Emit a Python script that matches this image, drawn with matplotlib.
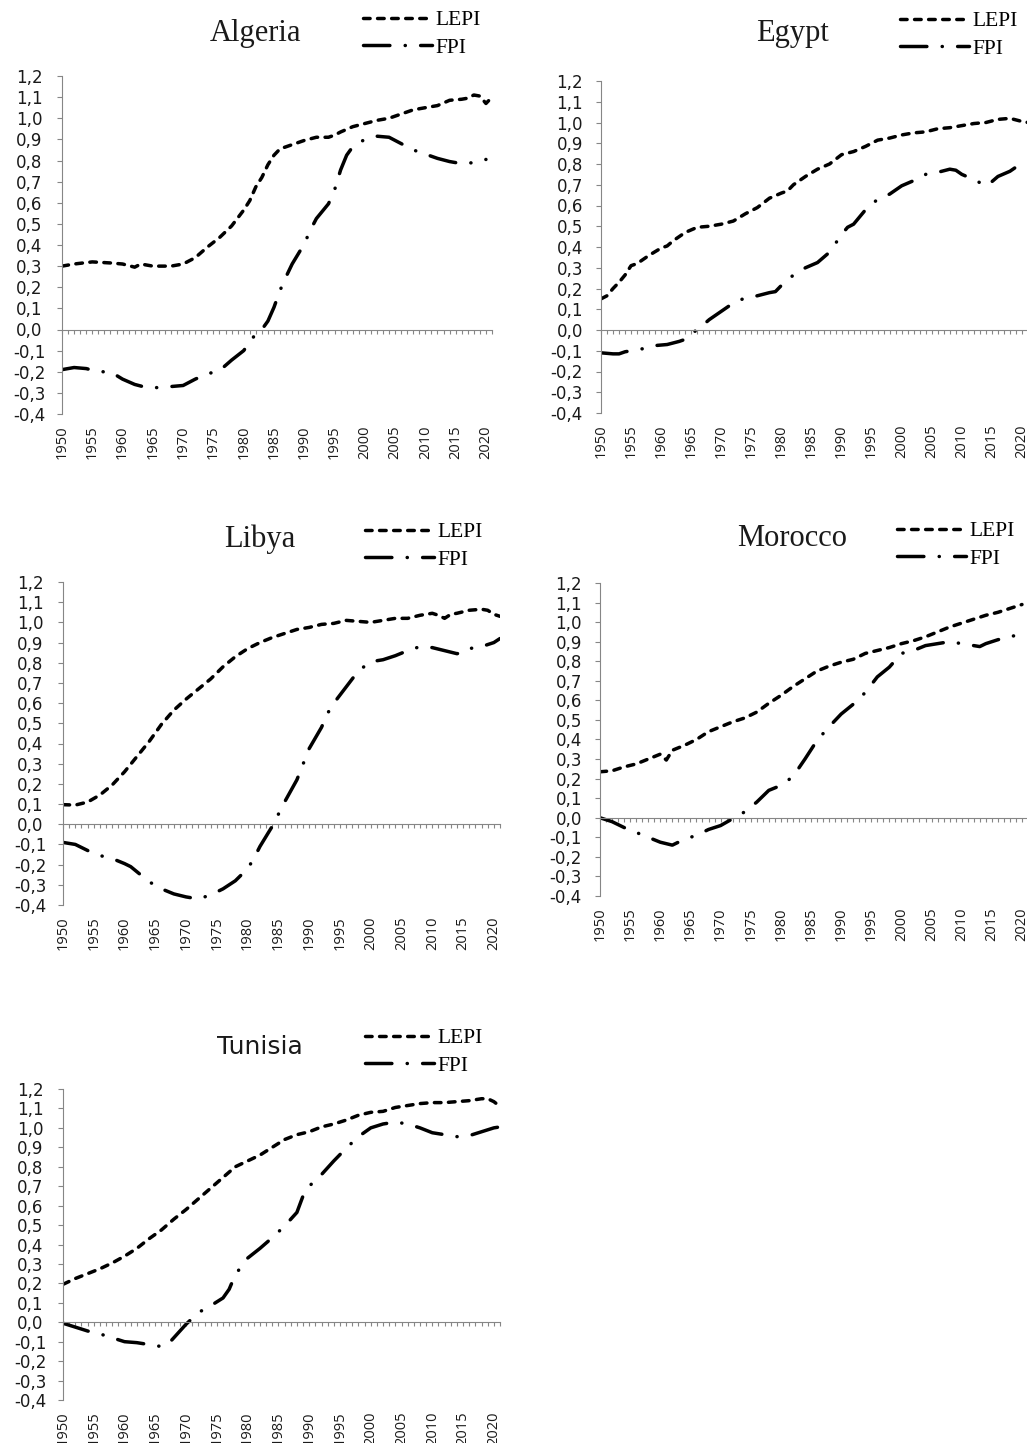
import matplotlib
matplotlib.use('Agg')
import matplotlib.pyplot as plt

# ---- data ----
algeria_lepi_years = [1950, 1952, 1955, 1958, 1960, 1962, 1963, 1965, 1968, 1970, 1972, 1974, 1976, 1978,
                      1980, 1981, 1982, 1983, 1984, 1985, 1986, 1988, 1990, 1992, 1994, 1995, 1996, 1998,
                      2000, 2002, 2004, 2006, 2008, 2010, 2012, 2014, 2016, 2017, 2018, 2019, 2020, 2021]
algeria_lepi = [0.30, 0.31, 0.32, 0.315, 0.31, 0.295, 0.31, 0.30, 0.30, 0.31, 0.34, 0.39, 0.435, 0.49,
                0.565, 0.61, 0.675, 0.72, 0.78, 0.825, 0.855, 0.875, 0.895, 0.91, 0.91, 0.92, 0.935, 0.96,
                0.975, 0.99, 1.0, 1.02, 1.04, 1.05, 1.06, 1.085, 1.09, 1.095, 1.11, 1.105, 1.07, 1.10]
algeria_fpi_years = [1950, 1952, 1954, 1956, 1958, 1960, 1962, 1964, 1966, 1968, 1970, 1972, 1974, 1976,
                     1978, 1980, 1982, 1983, 1984, 1985, 1986, 1987, 1988, 1990, 1991, 1992, 1994, 1995,
                     1996, 1997, 1998, 2000, 2002, 2004, 2006, 2008, 2010, 2012, 2014, 2016, 2018, 2020]
algeria_fpi = [-0.19, -0.18, -0.185, -0.20, -0.20, -0.235, -0.26, -0.275, -0.275, -0.27, -0.265, -0.235,
               -0.21, -0.195, -0.145, -0.10, -0.02, 0.0, 0.04, 0.105, 0.185, 0.25, 0.31, 0.405, 0.47, 0.525,
               0.595, 0.66, 0.755, 0.825, 0.865, 0.90, 0.915, 0.91, 0.88, 0.85, 0.83, 0.81, 0.795, 0.785,
               0.79, 0.805]

egypt_lepi_years = [1950, 1951, 1952, 1953, 1954, 1955, 1956, 1958, 1960, 1961, 1962, 1964, 1966, 1968,
                    1970, 1972, 1974, 1976, 1978, 1980, 1981, 1982, 1984, 1986, 1988, 1990, 1992, 1994,
                    1996, 1998, 2000, 2002, 2004, 2006, 2008, 2010, 2012, 2014, 2016, 2018, 2020, 2021]
egypt_lepi = [0.15, 0.165, 0.20, 0.23, 0.265, 0.31, 0.32, 0.36, 0.395, 0.405, 0.43, 0.47, 0.495, 0.50,
              0.51, 0.525, 0.56, 0.59, 0.635, 0.66, 0.67, 0.70, 0.74, 0.775, 0.80, 0.845, 0.86, 0.885,
              0.915, 0.925, 0.94, 0.95, 0.955, 0.97, 0.975, 0.985, 0.995, 1.0, 1.015, 1.02, 1.005, 1.0]
egypt_fpi_years = [1950, 1952, 1953, 1954, 1955, 1957, 1959, 1961, 1963, 1964, 1965, 1966, 1967, 1968,
                   1970, 1972, 1974, 1976, 1978, 1979, 1980, 1982, 1984, 1986, 1988, 1990, 1991, 1992,
                   1994, 1996, 1998, 2000, 2002, 2004, 2006, 2008, 2009, 2010, 2012, 2014, 2015, 2016,
                   2018, 2020, 2021]
egypt_fpi = [-0.11, -0.115, -0.115, -0.105, -0.10, -0.09, -0.075, -0.07, -0.055, -0.045, -0.025, 0.005,
             0.025, 0.05, 0.09, 0.13, 0.155, 0.165, 0.18, 0.185, 0.215, 0.265, 0.30, 0.325, 0.375, 0.46,
             0.495, 0.51, 0.58, 0.63, 0.655, 0.695, 0.72, 0.75, 0.76, 0.775, 0.77, 0.75, 0.725, 0.695,
             0.715, 0.74, 0.765, 0.805, 0.815]

libya_lepi_years = [1950, 1952, 1954, 1956, 1958, 1960, 1962, 1964, 1966, 1968, 1970, 1972, 1974, 1976,
                    1978, 1980, 1982, 1984, 1986, 1988, 1990, 1992, 1994, 1996, 1998, 2000, 2002, 2004,
                    2006, 2008, 2010, 2011, 2012, 2013, 2014, 2016, 2018, 2019, 2020, 2021]
libya_lepi = [0.097, 0.095, 0.11, 0.145, 0.195, 0.26, 0.335, 0.41, 0.495, 0.565, 0.62, 0.67, 0.72, 0.78,
              0.83, 0.87, 0.90, 0.925, 0.945, 0.965, 0.975, 0.99, 0.995, 1.01, 1.005, 1.0, 1.01, 1.02,
              1.02, 1.035, 1.045, 1.035, 1.02, 1.04, 1.045, 1.06, 1.065, 1.06, 1.04, 1.03]
libya_fpi_years = [1950, 1952, 1954, 1956, 1958, 1960, 1961, 1962, 1964, 1966, 1968, 1970, 1972, 1974,
                   1976, 1978, 1980, 1981, 1982, 1984, 1985, 1986, 1988, 1990, 1992, 1993, 1994, 1996,
                   1998, 2000, 2002, 2004, 2006, 2008, 2010, 2012, 2014, 2015, 2016, 2018, 2020, 2021]
libya_fpi = [-0.09, -0.10, -0.13, -0.155, -0.17, -0.195, -0.21, -0.235, -0.285, -0.32, -0.345, -0.36,
             -0.37, -0.35, -0.32, -0.28, -0.22, -0.17, -0.11, -0.01, 0.05, 0.11, 0.22, 0.375, 0.48, 0.55,
             0.60, 0.68, 0.76, 0.805, 0.815, 0.835, 0.86, 0.88, 0.875, 0.86, 0.845, 0.85, 0.87, 0.88,
             0.90, 0.92]

morocco_lepi_years = [1950, 1952, 1954, 1956, 1958, 1960, 1961, 1962, 1964, 1966, 1968, 1970, 1972, 1974,
                      1976, 1978, 1980, 1982, 1984, 1986, 1988, 1990, 1992, 1994, 1996, 1998, 2000, 2002,
                      2004, 2006, 2008, 2010, 2012, 2014, 2016, 2018, 2020]
morocco_lepi = [0.235, 0.24, 0.26, 0.275, 0.30, 0.325, 0.295, 0.345, 0.37, 0.40, 0.44, 0.465, 0.49, 0.51,
                0.54, 0.585, 0.625, 0.67, 0.71, 0.75, 0.775, 0.795, 0.81, 0.84, 0.855, 0.87, 0.89, 0.905,
                0.925, 0.95, 0.975, 0.995, 1.015, 1.035, 1.05, 1.07, 1.09]
morocco_fpi_years = [1950, 1952, 1954, 1956, 1958, 1960, 1962, 1963, 1964, 1966, 1968, 1970, 1972, 1974,
                     1976, 1978, 1980, 1982, 1984, 1986, 1988, 1990, 1992, 1994, 1996, 1998, 2000, 2002,
                     2004, 2006, 2008, 2010, 2012, 2013, 2014, 2016, 2018, 2020, 2021]
morocco_fpi = [0.0, -0.02, -0.05, -0.075, -0.10, -0.125, -0.14, -0.125, -0.11, -0.09, -0.06, -0.04,
               -0.005, 0.03, 0.08, 0.14, 0.165, 0.21, 0.30, 0.395, 0.465, 0.53, 0.58, 0.64, 0.72, 0.77,
               0.84, 0.855, 0.88, 0.89, 0.90, 0.89, 0.88, 0.875, 0.89, 0.91, 0.925, 0.94, 0.945]

tunisia_lepi_years = [1950, 1952, 1954, 1956, 1958, 1960, 1962, 1964, 1966, 1968, 1970, 1972, 1974, 1976,
                      1978, 1980, 1982, 1984, 1986, 1988, 1990, 1992, 1994, 1996, 1998, 2000, 2002, 2004,
                      2006, 2008, 2010, 2012, 2014, 2016, 2018, 2019, 2020, 2021]
tunisia_lepi = [0.195, 0.225, 0.25, 0.275, 0.305, 0.34, 0.38, 0.43, 0.475, 0.53, 0.58, 0.635, 0.69, 0.745,
                0.80, 0.83, 0.86, 0.90, 0.94, 0.965, 0.98, 1.005, 1.02, 1.04, 1.065, 1.08, 1.085, 1.105,
                1.115, 1.125, 1.13, 1.13, 1.135, 1.14, 1.15, 1.15, 1.135, 1.11]
tunisia_fpi_years = [1950, 1952, 1954, 1956, 1958, 1960, 1962, 1964, 1966, 1967, 1968, 1970, 1971, 1972,
                     1974, 1976, 1977, 1978, 1980, 1982, 1984, 1986, 1988, 1989, 1990, 1992, 1994, 1996,
                     1998, 2000, 2002, 2004, 2006, 2008, 2010, 2012, 2014, 2015, 2016, 2018, 2020, 2021]
tunisia_fpi = [-0.005, -0.025, -0.045, -0.06, -0.08, -0.10, -0.105, -0.115, -0.125, -0.115, -0.08, -0.01,
               0.02, 0.05, 0.085, 0.125, 0.17, 0.245, 0.33, 0.38, 0.435, 0.495, 0.565, 0.65, 0.70, 0.76,
               0.83, 0.895, 0.955, 1.0, 1.02, 1.03, 1.02, 1.0, 0.975, 0.965, 0.955, 0.955, 0.96, 0.98,
               1.0, 1.005]

y_ticks = [i / 10 for i in range(-4, 13)]
y_tick_labels = [f"{v:.1f}".replace('.', ',') for v in y_ticks]
year_ticks = list(range(1950, 2021, 5))

# ---- layout (pixels of the 1027x1443 image) ----
W, H = 1027, 1443
AXIS_GREY = '#868686'
TXT = '#1a1a1a'

# name, title font, title size, lepi years/values, fpi years/values,
# plot box (left, top, right, bottom), title centre, legend corner, left column?
panels = [
    ('Algeria', 'Liberation Serif', 22, algeria_lepi_years, algeria_lepi, algeria_fpi_years, algeria_fpi,
     (62, 76, 492, 414), (255, 33), (363, 10), True),
    ('Egypt', 'Liberation Serif', 22, egypt_lepi_years, egypt_lepi, egypt_fpi_years, egypt_fpi,
     (601, 81, 1028, 413), (792, 33), (900, 11), False),
    ('Libya', 'Liberation Serif', 22, libya_lepi_years, libya_lepi, libya_fpi_years, libya_fpi,
     (63, 582, 500, 905), (260, 539), (365, 522), True),
    ('Morocco', 'Liberation Serif', 22, morocco_lepi_years, morocco_lepi, morocco_fpi_years, morocco_fpi,
     (600, 583, 1028, 896), (792, 539), (897, 521), False),
    ('Tunisia', 'DejaVu Sans', 18, tunisia_lepi_years, tunisia_lepi, tunisia_fpi_years, tunisia_fpi,
     (63, 1089, 500, 1400), (260, 1047), (365, 1028), True),
]

fig = plt.figure(figsize=(W / 100, H / 100), dpi=100)

for (name, tfont, tsize, ly, lv, fy_, fv, box, tpos, lpos, left_col) in panels:
    l, t, r, b = box
    ax = fig.add_axes([l / W, 1 - b / H, (r - l) / W, (b - t) / H])

    ax.plot(ly, lv, color='black', lw=2.5, linestyle=(0, (1.9, 2.15)),
            dash_capstyle='round', solid_capstyle='round', label='LEPI')
    ax.plot(fy_, fv, color='black', lw=2.5, linestyle=(0, (7.6, 4.4, 0.05, 4.4)),
            dash_capstyle='round', solid_capstyle='round', label='FPI')

    ax.set_xlim(1950, 2021)
    ax.set_ylim(-0.4, 1.2)

    for s in ['top', 'right']:
        ax.spines[s].set_visible(False)
    ax.spines['left'].set_color(AXIS_GREY)
    ax.spines['bottom'].set_color(AXIS_GREY)
    ax.spines['bottom'].set_position(('data', 0))

    # y axis
    ax.set_yticks(y_ticks)
    if left_col:
        ax.set_yticklabels(y_tick_labels, ha='center')
        ypad = 20
    else:
        ax.set_yticklabels(y_tick_labels)
        ypad = 9.4
    ax.tick_params(axis='y', direction='out', length=3.6, width=0.8, color=AXIS_GREY,
                   labelsize=12, labelcolor=TXT, pad=ypad)

    # x axis line at zero with a tick every year
    ax.set_xticks(range(1950, 2022))
    ax.tick_params(axis='x', direction='out', length=3, width=0.8, color=AXIS_GREY, labelbottom=False)

    # year labels sit at the bottom of the plot
    sec = ax.secondary_xaxis(0.0)
    sec.set_xticks(year_ticks)
    sec.set_xticklabels([str(y) for y in year_ticks], rotation=90, fontfamily='Open Sans')
    sec.tick_params(length=0, pad=8, labelsize=10.5, labelcolor=TXT)
    sec.spines['bottom'].set_visible(False)

    fig.text(tpos[0] / W, 1 - tpos[1] / H, name, ha='center', va='center',
             fontsize=tsize, family=tfont, color=TXT)

    ax.legend(loc='upper left', bbox_to_anchor=(lpos[0] / W, 1 - lpos[1] / H),
              bbox_transform=fig.transFigure, frameon=False, borderpad=0, borderaxespad=0,
              handlelength=3.2, handletextpad=0.15, labelspacing=0.35,
              prop={'family': 'Liberation Serif', 'size': 15.5})

fig.savefig('out.png', dpi=100)
